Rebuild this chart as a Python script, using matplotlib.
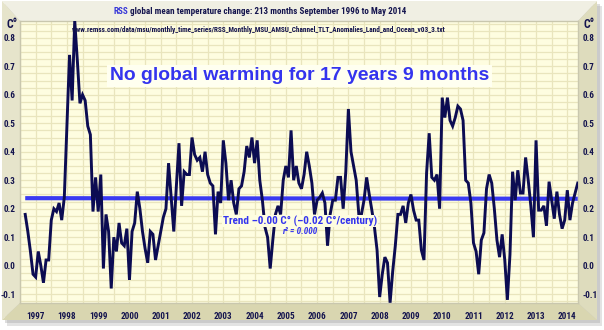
import numpy as np
import matplotlib
matplotlib.use("Agg")
import matplotlib.pyplot as plt
from matplotlib.patches import Polygon
from matplotlib import font_manager
from matplotlib.font_manager import FontProperties

# ---------------- data ----------------
start_year, start_month = 1996, 9
anomalies = [
    0.18, 0.12, 0.05, -0.03, -0.04, 0.05, 0.00, -0.06, 0.02, 0.02,
    0.16, 0.20, 0.19, 0.22, 0.16, 0.24, 0.49, 0.74, 0.58, 0.86,
    0.72, 0.57, 0.60, 0.58, 0.49, 0.46, 0.19, 0.31, 0.19, 0.32,
    -0.01, 0.18, 0.12, -0.08, 0.10, 0.05, 0.15, 0.08, 0.07, 0.13,
    -0.05, 0.12, 0.15, 0.26, 0.20, 0.12, 0.06, 0.01, 0.12, 0.11,
    0.02, 0.07, 0.12, 0.17, 0.20, 0.36, 0.24, 0.12, 0.28, 0.43,
    0.21, 0.33, 0.32, 0.32, 0.45, 0.39, 0.37, 0.38, 0.33, 0.40,
    0.32, 0.29, 0.28, 0.11, 0.26, 0.22, 0.44, 0.36, 0.23, 0.30,
    0.22, 0.18, 0.27, 0.28, 0.33, 0.42, 0.38, 0.45, 0.36, 0.44,
    0.30, 0.23, 0.135, 0.10, -0.01, 0.09, 0.18, 0.21, 0.18, 0.30,
    0.35, 0.31, 0.475, 0.30, 0.35, 0.29, 0.27, 0.32, 0.40, 0.35,
    0.29, 0.18, 0.23, 0.24, 0.255, 0.22, 0.07, 0.18, 0.23, 0.23,
    0.31, 0.31, 0.20, 0.33, 0.55, 0.40, 0.35, 0.30, 0.18, 0.18,
    0.23, 0.31, 0.25, 0.195, 0.135, 0.055, -0.11, -0.03, 0.03, 0.01,
    -0.13, -0.02, 0.07, 0.18, 0.18, 0.21, 0.15, 0.22, 0.25, 0.195,
    0.16, 0.16, 0.055, 0.02, 0.325, 0.465, 0.31, 0.30, 0.32, 0.20,
    0.59, 0.52, 0.59, 0.51, 0.49, 0.52, 0.56, 0.55, 0.51, 0.30,
    0.29, 0.22, 0.08, 0.05, -0.03, 0.09, 0.115, 0.27, 0.32, 0.29,
    0.20, 0.09, 0.03, 0.11, 0.02, -0.12, 0.04, 0.33, 0.23, 0.335,
    0.255, 0.255, 0.38, 0.30, 0.21, 0.10, 0.44, 0.195, 0.195, 0.21,
    0.14, 0.295, 0.23, 0.165, 0.26, 0.18, 0.13, 0.16, 0.265, 0.16,
    0.22, 0.255, 0.29,
]
trend_values = [0.237, 0.235]
year_labels = list(range(1997, 2015))
y_tick_values = [-0.1, 0.0, 0.1, 0.2, 0.3, 0.4, 0.5, 0.6, 0.7, 0.8]

title_main = "RSS"
title_rest = " global mean temperature change: 213 months September 1996 to May 2014"
source_text = "www.remss.com/data/msu/monthly_time_series/RSS_Monthly_MSU_AMSU_Channel_TLT_Anomalies_Land_and_Ocean_v03_3.txt"
headline = "No global warming for 17 years 9 months"
trend_text = "Trend \u20130.00 C\u00b0 (\u20130.02 C\u00b0/century)"
r2_text = "r\u00b2 = 0.000"

# ---------------- fonts ----------------
W, H = 604, 330


def _wt(f):
    w = f.weight
    if isinstance(w, str):
        return 700 if "bold" in w.lower() else 400
    return int(w)


narrow_file = None
narrow_italic_file = None
prefs = ["Liberation Sans Narrow", "Arial Narrow", "Roboto Condensed", "Open Sans Condensed",
         "DejaVu Sans", "Noto Sans", "Open Sans", "Roboto"]
cands = []
for f in font_manager.fontManager.ttflist:
    cond = ("Narrow" in f.name or "Condensed" in f.name
            or str(f.stretch) in ("condensed", "semi-condensed", "extra-condensed", "ultra-condensed")
            or "Condensed" in f.fname or "Narrow" in f.fname)
    if cond and _wt(f) >= 600:
        rank = prefs.index(f.name) if f.name in prefs else len(prefs)
        cands.append((rank, f))
cands.sort(key=lambda t: t[0])
for rank, f in cands:
    if f.style == "normal" and narrow_file is None:
        narrow_file = f.fname
    if f.style != "normal" and narrow_italic_file is None:
        narrow_italic_file = f.fname


def nfont(italic=False):
    if italic and narrow_italic_file:
        return FontProperties(fname=narrow_italic_file)
    if narrow_file and not italic:
        return FontProperties(fname=narrow_file)
    return FontProperties(family="Liberation Sans", weight="bold", style="italic" if italic else "normal")


have_narrow = narrow_file is not None

navy = "#14144e"
line_col = "#0c0c52"
blue = "#3434ee"
plot_bg = "#fefde0"
grid_col = "#e9e5bd"

fig = plt.figure(figsize=(W / 100, H / 100), dpi=100)
fig.patch.set_facecolor("white")


def P(x, y):
    return (x / W, 1 - y / H)


def poly(pts, color, z=0, alpha=1.0):
    fig.patches.append(Polygon([P(*p) for p in pts], closed=True, transform=fig.transFigure,
                               facecolor=color, edgecolor="none", zorder=z, alpha=alpha))


# shadow
poly([(7, 6), (602, 6), (602, 326), (7, 326)], "#b0b0b0", z=0, alpha=0.35)
poly([(5, 4), (600, 4), (600, 323), (5, 323)], "#a0a0a0", z=0, alpha=0.35)
# frame bevel
x0, y0, x1, y1 = 2, 1, 597, 320
px0, py0, px1, py1 = 20, 21, 578, 303
poly([(x0, y0), (x1, y0), (px1, py0), (px0, py0)], "#f0efe3", z=1)
poly([(x0, y0), (px0, py0), (px0, py1), (x0, y1)], "#e6e4cb", z=1)
poly([(x1, y0), (x1, y1), (px1, py1), (px1, py0)], "#dedcbd", z=1)
poly([(x0, y1), (px0, py1), (px1, py1), (x1, y1)], "#d9d6b0", z=1)

ax = fig.add_axes([px0 / W, 1 - py1 / H, (px1 - px0) / W, (py1 - py0) / H])
ax.set_facecolor(plot_bg)
ax.set_zorder(2)

n = len(anomalies)
months = np.arange(n)
ax.plot(months, anomalies, color=line_col, lw=2.1, solid_joinstyle="miter", zorder=4)
ax.plot([months[0], months[-1]], trend_values, color="#3a3af2", lw=3.0, zorder=3, solid_capstyle="butt")

ax.set_xlim(-0.38, n - 1 + 0.1)
ax.set_ylim(-0.131, 0.859)

jan_pos = [(y - start_year) * 12 + 1 - start_month for y in year_labels]
ax.set_xticks(jan_pos)
ax.set_xticklabels([str(y) for y in year_labels])
ax.set_xticks(np.arange(jan_pos[0] - 6, n, 6), minor=True)
ax.set_yticks(y_tick_values)
ax.set_yticklabels([f"{v:.1f}" for v in y_tick_values])
ax.set_yticks(np.arange(-0.125, 0.86, 0.025), minor=True)
ax.grid(True, which="both", color=grid_col, lw=0.9, zorder=0)
ax.set_axisbelow(True)
ax.tick_params(which="both", length=0)
ax.tick_params(axis="y", labelleft=True, labelright=True, pad=3.0)
ax.tick_params(axis="x", pad=6.5)
tick_fs = 6.6 if have_narrow else 6.3
for lab in ax.get_xticklabels() + ax.get_yticklabels():
    lab.set_fontproperties(nfont())
    lab.set_fontsize(tick_fs)
    lab.set_color(navy)
for s in ax.spines.values():
    s.set_color("#c9c7ae")
    s.set_linewidth(1.0)

renderer = fig.canvas.get_renderer()


def fit(txt, xl, xr, y, fp, color, bbox=None, z=5):
    t = fig.text(xl / W, 1 - y / H, txt, ha="left", va="center", fontproperties=fp,
                 color=color, zorder=z)
    t.set_fontsize(10)
    if bbox is not None:
        t.set_bbox(bbox)
    w = t.get_window_extent(renderer).width
    t.set_fontsize(10 * (xr - xl) / w)
    return t


# C° labels
for xc in (12, 589):
    t = fig.text(xc / W, 1 - 24 / H, "C\u00b0", ha="center", va="center",
                 fontproperties=nfont(), color=navy, zorder=5)
    t.set_fontsize(8.5 if have_narrow else 8)

# title (two colours)
full = fit(title_main + title_rest, 113, 405, 11, nfont(), navy)
fs = full.get_fontsize()
full.remove()
t1 = fig.text(113 / W, 1 - 11 / H, title_main, ha="left", va="center",
              fontproperties=nfont(), color="#3636d8", zorder=5)
t1.set_fontsize(fs)
w1 = t1.get_window_extent(renderer).width
t2 = fig.text((113 + w1) / W, 1 - 11 / H, title_rest, ha="left", va="center",
              fontproperties=nfont(), color=navy, zorder=5)
t2.set_fontsize(fs)

fit(source_text, 72, 447, 30, nfont(), navy)
bb = dict(facecolor="#fffff0", edgecolor="none", pad=1.5)
fit(headline, 110, 489, 76, FontProperties(family="Liberation Sans", weight="bold"), blue, bbox=bb)
fit(trend_text, 223, 377, 221, nfont(), blue, bbox=dict(facecolor=plot_bg, edgecolor="none", pad=0.5))
fit(r2_text, 282, 317, 232, nfont(italic=True), blue)

fig.savefig("out.png", dpi=100, facecolor="white")
